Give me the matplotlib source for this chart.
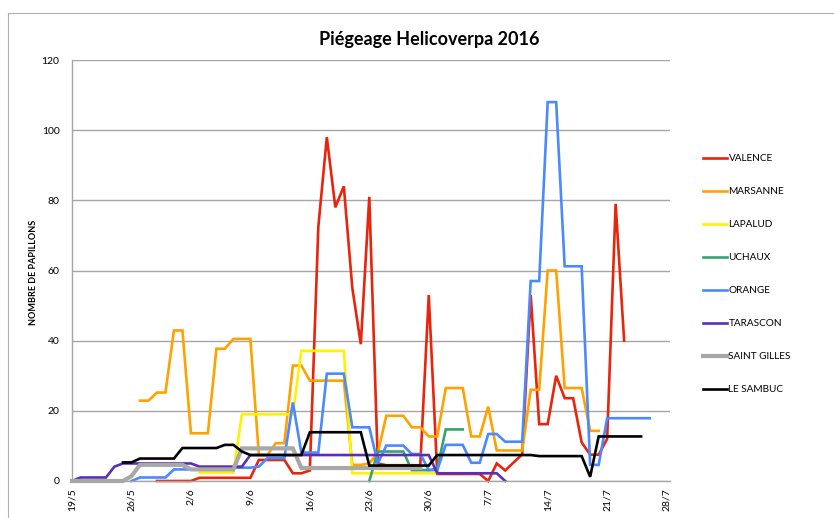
import numpy as np
import matplotlib
matplotlib.use("Agg")
import matplotlib.pyplot as plt
from matplotlib.lines import Line2D

plt.rcParams['font.family'] = ['Lato', 'DejaVu Sans']

# ---- data (day index 0 = 19/5/2016, one value per day) ----
tick_labels = ["19/5", "26/5", "2/6", "9/6", "16/6", "23/6", "30/6",
               "7/7", "14/7", "21/7", "28/7"]

valence_start = 10
valence = [0, 0, 0, 0, 0,
           0.9, 0.9, 0.9, 0.9, 0.9, 0.9, 0.9,
           6, 6, 6, 6,
           2.2, 2.2, 3,
           72.5, 98, 78, 84, 55, 39, 81,
           5, 4.5, 4.5, 4.5, 4.5, 4.5, 53,
           2, 2, 2, 2, 2, 2,
           0, 5, 3, 5.3, 7.6, 53,
           16.2, 16.2, 30, 23.6, 23.6, 11, 7.5, 7.5, 12, 79, 40]

marsanne_start = 8
marsanne = [22.9, 22.9, 25.2, 25.2, 42.9, 42.9, 13.6, 13.6, 13.6,
            37.7, 37.7, 40.5, 40.5, 40.5, 7.4, 7.4, 10.8, 10.8,
            32.9, 32.9, 28.6, 28.6, 28.6, 28.6, 28.6,
            4.6, 4.6, 5, 8, 18.6, 18.6, 18.6, 15.3, 15.3, 12.7, 12.7,
            26.5, 26.5, 26.5, 12.7, 12.7, 21.2, 8.7, 8.7, 8.7, 8.7,
            26, 26, 60, 60, 26.5, 26.5, 26.5, 14.3, 14.3]

lapalud_start = 15
lapalud = [2.4, 2.4, 2.4, 2.4, 2.4,
           19, 19, 19, 19, 19, 19, 19,
           37.1, 37.1, 37.1, 37.1, 37.1, 37.1,
           2.2, 2.2, 2.2, 2.2, 2.2, 2.2, 2.2, 2.2, 2.2, 2.2, 2.2]

uchaux_start = 35
uchaux = [0, 8.4, 8.4, 8.4, 8.4, 3.1, 3.1, 3.1, 3.5, 14.7, 14.7, 14.7]

orange_start = 7
orange = [0, 1, 1, 1, 1,
          3.3, 3.3, 3.3, 3.3, 3.3, 3.3, 3.3, 3.8, 3.8, 3.8, 4.1,
          6.5, 6.5, 6.5, 22.4, 8.1, 8.1, 8.1, 30.6, 30.6, 30.6,
          15.3, 15.3, 15.3, 5, 10.1, 10.1, 10.1, 7.7, 7.7, 3.1, 3.1,
          10.3, 10.3, 10.3, 5.2, 5.2, 13.4, 13.4, 11.2, 11.2, 11.2,
          57, 57, 108, 108, 61.2, 61.2, 61.2, 4.6, 4.6,
          17.9, 17.9, 17.9, 17.9, 17.9, 17.9]

tarascon_start = 0
tarascon = [0, 1, 1, 1, 1, 4.1,
            5, 5, 5, 5, 5, 5, 5, 5, 5,
            4.1, 4.1, 4.1, 4.1, 4.1, 4.1] + [7.4] * 22 + [2.2] * 8 + [0]

saint_gilles_start = 0
saint_gilles = [0, 0, 0, 0, 0, 0, 0, 1.4,
                4.6, 4.6, 4.6, 4.6, 4.6, 4.6,
                3.3, 3.3, 3.3, 3.3, 3.3, 3.3,
                9.3, 9.3, 9.3, 9.3, 9.3, 9.3, 9.3] + [3.7] * 15

le_sambuc_start = 6
le_sambuc = ([5.3, 5.3] + [6.4] * 5 + [9.4] * 5 + [10.3, 10.3, 8.4] +
             [7.4] * 7 + [13.9] * 7 + [4.4] * 8 + [7.4] * 12 +
             [7.1] * 6 + [1.2] + [12.7] * 6)

series_names = ["VALENCE", "MARSANNE", "LAPALUD", "UCHAUX", "ORANGE",
                "TARASCON", "SAINT GILLES", "LE SAMBUC"]
series_data = [(valence_start, valence), (marsanne_start, marsanne),
               (lapalud_start, lapalud), (uchaux_start, uchaux),
               (orange_start, orange), (tarascon_start, tarascon),
               (saint_gilles_start, saint_gilles), (le_sambuc_start, le_sambuc)]

colors = ["#E8250C", "#FFA200", "#FFF200", "#35A26F", "#4B89FF",
          "#5B2FB5", "#A8A8A8", "#000000"]
widths = [1.9, 1.9, 1.9, 1.9, 1.9, 1.9, 3.0, 1.9]

# ---- figure ----
W, H = 834, 518
fig = plt.figure(figsize=(W / 100, H / 100), dpi=100)
L, R, T, B = 72, 670, 60, 481
ax = fig.add_axes([L / W, 1 - B / H, (R - L) / W, (B - T) / H])

for name, (start, vals), c, lw in zip(series_names, series_data, colors, widths):
    x = np.arange(start, start + len(vals))
    ax.plot(x, vals, color=c, lw=lw, label=name, solid_joinstyle='miter',
            clip_on=False)

ax.set_xlim(0, 70.4)
ax.set_ylim(0, 120)
ax.set_yticks(np.arange(0, 121, 20))
ax.set_xticks(np.arange(0, 71, 7))
ax.set_xticklabels(tick_labels, rotation=90, fontsize=7.5)
ax.tick_params(axis='y', labelsize=7.5, length=0, pad=9)
ax.tick_params(axis='x', length=0, pad=5)
ax.yaxis.grid(True, color="#A6A6A6", lw=1.0)
ax.set_axisbelow(True)
for s in ["top", "right"]:
    ax.spines[s].set_visible(False)
ax.spines["left"].set_color("#A6A6A6")
ax.spines["bottom"].set_color("#A6A6A6")
ax.spines["left"].set_linewidth(1.0)
ax.spines["bottom"].set_linewidth(1.0)

fig.text(429 / W, 1 - 40 / H, "Piégeage Helicoverpa 2016", ha="center",
         va="center", fontsize=13, fontweight="bold")
fig.text(33 / W, 1 - 272 / H, "NOMBRE DE PAPILLONS", rotation=90,
         ha="center", va="center", fontsize=6.5, fontweight="bold")

# legend
handles = [Line2D([0], [0], color=c, lw=lw) for c, lw in zip(colors, widths)]
leg = fig.legend(handles, series_names, loc="upper left",
                 bbox_to_anchor=(703 / W, 1 - 154 / H), frameon=False,
                 fontsize=7.2, handlelength=2.4, handletextpad=0.15,
                 labelspacing=2.4, borderpad=0, borderaxespad=0)

# outer chart border (top and left edges visible)
fig.add_artist(Line2D([8 / W, 1.0], [1 - 13 / H, 1 - 13 / H],
                      color="#B0B0B0", lw=0.8, transform=fig.transFigure))
fig.add_artist(Line2D([8 / W, 8 / W], [1 - 13 / H, 0.0],
                      color="#B0B0B0", lw=0.8, transform=fig.transFigure))

fig.savefig("out.png", dpi=100)
